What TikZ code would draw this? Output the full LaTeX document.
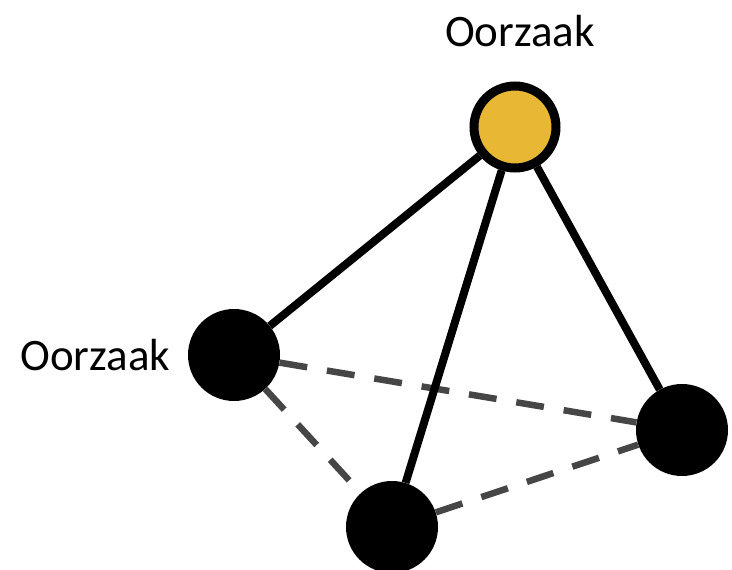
\documentclass[tikz,border=0pt]{standalone}
\usepackage{fontspec}
\setmainfont{Carlito}
\usepackage{tikz}
\usetikzlibrary{positioning}
\definecolor{causeY}{RGB}{232, 184, 52}
\definecolor{dashG}{RGB}{70, 70, 70}

\begin{document}
\begin{tikzpicture}[x=1pt, y=-1pt]
  % Tetrahedron of causes, top vertex highlighted
  \useasboundingbox (0,0) rectangle (732,570);
  \tikzset{
    vtx/.style={circle, fill=black, minimum size=92pt, inner sep=0pt},
    topvtx/.style={circle, draw=black, line width=9pt, fill=causeY, minimum size=82pt, inner sep=0pt},
    edge/.style={line width=8pt, black},
    hidden/.style={line width=6.5pt, dashG, dash pattern=on 28pt off 20pt},
    lbl/.style={font=\fontsize{45}{50}\selectfont}
  }

  % Vertices
  \node[topvtx] (top) at (515,127) {};
  \node[vtx] (left) at (234,355) {};
  \node[vtx] (right) at (682,430) {};
  \node[vtx] (bottom) at (392,527) {};

  % Hidden edges
  \draw[hidden] (left) -- (right);
  \draw[hidden] (left) -- (bottom);
  \draw[hidden] (bottom) -- (right);

  % Visible edges
  \draw[edge] (top) -- (left);
  \draw[edge] (top) -- (bottom);
  \draw[edge] (top) -- (right);

  % Labels
  \node[lbl] (topname) at (520,31) {Oorzaak};
  \node[lbl, left=14pt of left] (leftname) {Oorzaak};
\end{tikzpicture}
\end{document}
